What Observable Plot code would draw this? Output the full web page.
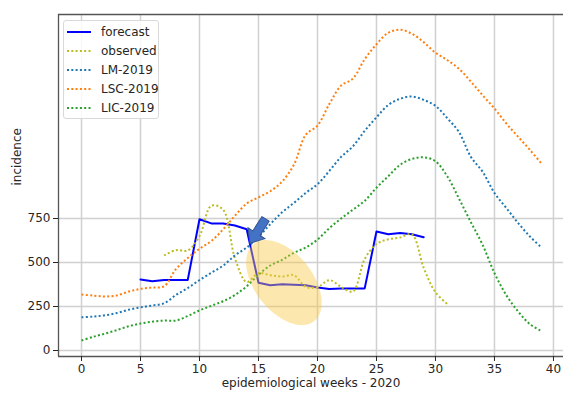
<!DOCTYPE html>
<html>
<head>
<meta charset="utf-8">
<script src="https://cdn.jsdelivr.net/npm/d3@7"></script>
<script src="https://cdn.jsdelivr.net/npm/@observablehq/plot@0.6"></script>
<style>
  body { margin: 0; background: #fff; }
  #wrap { position: relative; width: 563px; height: 396px; overflow: hidden; font-family: "DejaVu Sans", sans-serif; }
  #legend { position: absolute; left: 63px; top: 20px; width: 94px; height: 97px; border: 1px solid #d9d9d9; border-radius: 3px; background: rgba(255,255,255,0.85); }
  .lrow { position: absolute; left: 0; height: 16px; font-size: 12px; color: #262626; }
  .lrow svg { position: absolute; left: 3px; top: 6px; }
  .lrow span { position: absolute; left: 37px; top: 0; white-space: nowrap; line-height: 16px; }
</style>
</head>
<body>
<div id="wrap"></div>
<script>
// ---- data ----
const baseWeeks = [0,1,2,3,4,5,6,7,8,9,10,11,12,13,14,15,16,17,18,19,20,21,22,23,24,25,26,27,28,29,30,31,32,33,34,35,36,37,38,39];
const lm2019  = [189,193,200,213,232,245,256,268,315,355,400,442,482,540,585,645,718,785,838,895,945,1020,1100,1160,1248,1325,1395,1430,1443,1424,1390,1320,1240,1100,1015,895,810,725,648,585];
const lsc2019 = [318,312,307,313,335,350,358,365,462,525,578,622,688,765,835,870,905,960,1055,1225,1278,1400,1505,1545,1655,1740,1805,1822,1800,1752,1692,1650,1600,1528,1450,1375,1290,1215,1140,1061];
const lic2019 = [57,78,96,116,138,153,164,170,170,196,228,254,280,315,365,430,483,515,555,585,630,695,750,800,850,925,990,1055,1088,1098,1075,990,862,729,600,440,315,222,150,110];
const forecastWeeks = [5,6,7,8,9,10,11,12,13,14,15,16,17,18,19,20,21,22,23,24,25,26,27,28,29];
const forecast = [403,394,400,400,400,746,722,722,710,689,385,371,376,374,371,358,350,353,353,353,676,661,667,660,644];
const observedWeeks = [7,8,9,10,11,12,13,14,15,16,17,18,19,20,21,22,23,24,25,26,27,28,29,30,31];
const observed = [540,570,568,650,822,800,525,390,440,428,420,428,362,360,400,362,335,520,605,632,642,660,470,331,265];
const xTicks = [0,5,10,15,20,25,30,35,40];
const yTicks = [0,250,500,750];
const seriesNames = ["forecast","observed","LM-2019","LSC-2019","LIC-2019"];
const seriesColors = ["#0000ff","#bcbd22","#1f77b4","#ff7f0e","#2ca02c"];
const xLabel = "epidemiological weeks - 2020";
const yLabel = "incidence";
const highlightCenter = {week: 17.2, value: 383};
const arrowTip = {week: 14.32, value: 606};

// ---- build ----
const rows = (ws, vs) => ws.map((w, i) => ({w, v: vs[i]}));
const xDomain = [-1.95, 40.85];
const yDomain = [-34, 1909];
const DASH = "2,2.3";
const dotted = {strokeWidth: 2, strokeDasharray: DASH, strokeLinecap: "butt", curve: "catmull-rom"};
const gridStyle = {stroke: "#d0d0d0", strokeWidth: 1.5};
const spine = {stroke: "#555", strokeWidth: 1.3};

const plot = Plot.plot({
  width: 563, height: 396,
  marginLeft: 58, marginRight: 0, marginTop: 14, marginBottom: 40,
  x: {domain: xDomain},
  y: {domain: yDomain},
  style: {fontFamily: "DejaVu Sans, sans-serif", fontSize: "12px", color: "#262626", background: "transparent", overflow: "visible"},
  marks: [
    Plot.ruleX(xTicks, gridStyle),
    Plot.ruleY(yTicks, gridStyle),
    Plot.line(rows(forecastWeeks, forecast), {x: "w", y: "v", stroke: seriesColors[0], strokeWidth: 2}),
    Plot.line(rows(observedWeeks, observed), {x: "w", y: "v", stroke: seriesColors[1], ...dotted}),
    Plot.line(rows(baseWeeks, lm2019), {x: "w", y: "v", stroke: seriesColors[2], ...dotted}),
    Plot.line(rows(baseWeeks, lsc2019), {x: "w", y: "v", stroke: seriesColors[3], ...dotted}),
    Plot.line(rows(baseWeeks, lic2019), {x: "w", y: "v", stroke: seriesColors[4], ...dotted}),
    Plot.ruleX([xDomain[0]], spine),
    Plot.ruleY([yDomain[0]], spine),
    Plot.ruleY([yDomain[1]], spine),
    Plot.axisX({ticks: xTicks, tickSize: 5, tickPadding: 3, label: null, fontSize: 12}),
    Plot.axisY({ticks: yTicks, tickSize: 5, tickPadding: 3, label: null, fontSize: 12}),
    Plot.text([xLabel], {frameAnchor: "bottom", dy: 30, fontSize: 12, fill: "#262626"}),
    Plot.text([yLabel], {frameAnchor: "left", dx: -41, rotate: -90, fontSize: 12, fill: "#262626"})
  ]
});

const wrap = document.getElementById("wrap");
wrap.appendChild(plot);

// annotations placed through the plot's scales
const sx = plot.scale("x"), sy = plot.scale("y");
const svg = d3.select(plot);
const cx = sx.apply(highlightCenter.week), cy = sy.apply(highlightCenter.value);
svg.append("ellipse")
  .attr("cx", 0).attr("cy", 0).attr("rx", 49).attr("ry", 29)
  .attr("transform", `translate(${cx},${cy}) rotate(52)`)
  .attr("fill", "#f9c940").attr("fill-opacity", 0.42);
const tx = sx.apply(arrowTip.week), ty = sy.apply(arrowTip.value);
svg.append("polygon")
  .attr("points", "0,0 -12,-10 -12,-4.3 -29,-4.3 -29,4.3 -12,4.3 -12,10")
  .attr("transform", `translate(${tx},${ty}) rotate(122.5)`)
  .attr("fill", "#4472c4").attr("stroke", "#2f528f").attr("stroke-width", 1);

// legend
const legend = document.createElement("div");
legend.id = "legend";
seriesNames.forEach((name, i) => {
  const row = document.createElement("div");
  row.className = "lrow";
  row.style.top = (3 + i * 19) + "px";
  row.style.width = "92px";
  const dash = i === 0 ? "" : `stroke-dasharray="${DASH}"`;
  row.innerHTML = `<svg width="26" height="4"><line x1="0" y1="2" x2="24" y2="2" stroke="${seriesColors[i]}" stroke-width="2" ${dash}/></svg><span>${name}</span>`;
  legend.appendChild(row);
});
wrap.appendChild(legend);
</script>
</body>
</html>
